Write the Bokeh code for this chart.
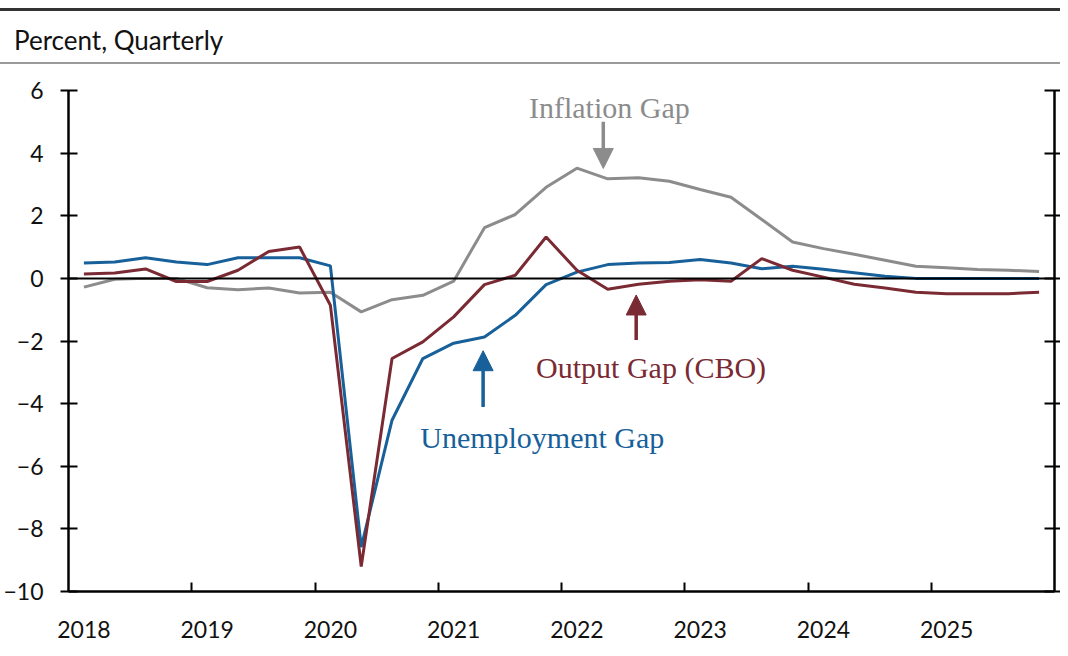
from bokeh.plotting import figure
from bokeh.models import (Range1d, LinearAxis, FixedTicker, Span, Label, Arrow, NormalHead, Div)
from bokeh.layouts import column
from bokeh.embed import file_html
from bokeh.resources import INLINE

# ---------------- data ----------------
years = [2018, 2019, 2020, 2021, 2022, 2023, 2024, 2025]
year_labels = ["2018", "2019", "2020", "2021", "2022", "2023", "2024", "2025"]
# quarterly observations 2018Q1 .. 2025Q4 (plotted at mid-quarter)
quarters = [y + (q - 0.5) / 4 for y in years for q in range(1, 5)]

unemployment_gap = [0.49, 0.52, 0.66, 0.52, 0.44, 0.66, 0.66, 0.66,
                    0.40, -8.58, -4.53, -2.56, -2.07, -1.87, -1.18, -0.20,
                    0.20, 0.44, 0.49, 0.51, 0.60, 0.49, 0.31, 0.39,
                    0.29, 0.18, 0.07, 0.00, 0.00, 0.00, 0.00, 0.00]
output_gap = [0.14, 0.17, 0.30, -0.10, -0.10, 0.26, 0.86, 1.00,
              -0.86, -9.20, -2.56, -2.03, -1.23, -0.20, 0.10, 1.32,
              0.26, -0.35, -0.19, -0.09, -0.04, -0.09, 0.63, 0.26,
              0.04, -0.19, -0.31, -0.44, -0.49, -0.49, -0.49, -0.44]
inflation_gap = [-0.28, -0.03, 0.00, 0.00, -0.30, -0.36, -0.31, -0.47,
                 -0.44, -1.07, -0.68, -0.54, -0.09, 1.62, 2.04, 2.91,
                 3.52, 3.18, 3.21, 3.10, 2.84, 2.59, 1.88, 1.16,
                 0.95, 0.77, 0.58, 0.39, 0.34, 0.28, 0.26, 0.22]
y_ticks = [6, 4, 2, 0, -2, -4, -6, -8, -10]

BLUE = "#17609a"
RED = "#7a2a33"
GRAY = "#8c8c8c"
SANS = "Lato"
SERIF = "Liberation Serif"

# ---------------- header (rules + unit label) ----------------
header = Div(width=1060, height=70, margin=(0, 0, 0, 0), text=(
    '<div style="position:relative;width:1060px;height:70px;font-family:Lato,sans-serif;">'
    '<div style="position:absolute;left:0;top:8px;width:1060px;height:0;'
    'border-top:3.5px solid #333333;"></div>'
    '<div style="position:absolute;left:14px;top:27px;font-size:26px;line-height:26px;'
    'color:#111111;white-space:nowrap;">Percent, Quarterly</div>'
    '<div style="position:absolute;left:0;top:62px;width:1060px;height:0;'
    'border-top:2px solid #9a9a9a;"></div>'
    '</div>'))

# ---------------- main plot ----------------
p = figure(width=1060, height=577, x_range=Range1d(2018, 2026), y_range=Range1d(-10, 6),
           output_backend="svg", toolbar_location=None, margin=(0, 0, 0, 0),
           min_border_left=64, min_border_right=6, min_border_top=20, min_border_bottom=56,
           x_axis_type=None, y_axis_type=None)
p.grid.visible = False
p.outline_line_color = None

# bottom axis: labels at Q1, tick marks at year boundaries (minor ticks)
xt = FixedTicker(ticks=[y + 0.125 for y in years],
                 minor_ticks=list(range(2019, 2026)))
xa = LinearAxis(ticker=xt)
xa.major_label_overrides = {y + 0.125: lab for y, lab in zip(years, year_labels)}
xa.major_tick_line_color = None
xa.major_tick_in = 0
xa.major_tick_out = 0
xa.minor_tick_in = 9
xa.minor_tick_out = 0
xa.minor_tick_line_width = 2
xa.minor_tick_line_color = "black"
xa.axis_line_width = 2.5
xa.axis_line_color = "black"
xa.major_label_text_font = SANS
xa.major_label_text_font_size = "23px"
xa.major_label_text_color = "#111111"
xa.major_label_standoff = 29
p.add_layout(xa, "below")

yt = FixedTicker(ticks=y_ticks, minor_ticks=[])
ya = LinearAxis(ticker=yt)
ya.major_tick_in = 9
ya.major_tick_out = 8
ya.minor_tick_in = 0
ya.minor_tick_out = 0
ya.major_tick_line_width = 2
ya.axis_line_width = 2.5
ya.major_label_text_font = SANS
ya.major_label_text_font_size = "23px"
ya.major_label_text_color = "#111111"
ya.major_label_standoff = 17
p.add_layout(ya, "left")

ya2 = LinearAxis(ticker=FixedTicker(ticks=y_ticks, minor_ticks=[]))
ya2.major_tick_in = 10
ya2.major_tick_out = 6
ya2.minor_tick_in = 0
ya2.minor_tick_out = 0
ya2.major_tick_line_width = 2
ya2.axis_line_width = 2.5
ya2.major_label_overrides = {t: "" for t in y_ticks}
ya2.major_label_text_color = None
ya2.major_label_standoff = 0
p.add_layout(ya2, "right")

# series
p.line(quarters, inflation_gap, line_color=GRAY, line_width=3)
p.line(quarters, unemployment_gap, line_color=BLUE, line_width=3)
p.line(quarters, output_gap, line_color=RED, line_width=3)

p.add_layout(Span(location=0, dimension="width", line_color="black", line_width=2))

# annotations
p.add_layout(Label(x=2022.388, y=5.45, text="Inflation Gap", text_font=SERIF,
                   text_font_size="30px", text_color=GRAY, text_align="center",
                   text_baseline="alphabetic"))
p.add_layout(Arrow(end=NormalHead(size=20, fill_color=GRAY, line_color=GRAY),
                   x_start=2022.339, y_start=5.0, x_end=2022.339, y_end=3.51,
                   line_color=GRAY, line_width=3.5))

p.add_layout(Label(x=2022.727, y=-2.84, text="Output Gap (CBO)", text_font=SERIF,
                   text_font_size="30px", text_color=RED, text_align="center",
                   text_baseline="alphabetic"))
p.add_layout(Arrow(end=NormalHead(size=20, fill_color=RED, line_color=RED),
                   x_start=2022.606, y_start=-1.97, x_end=2022.606, y_end=-0.53,
                   line_color=RED, line_width=3.5))

p.add_layout(Label(x=2021.844, y=-5.08, text="Unemployment Gap", text_font=SERIF,
                   text_font_size="30px", text_color=BLUE, text_align="center",
                   text_baseline="alphabetic"))
p.add_layout(Arrow(end=NormalHead(size=20, fill_color=BLUE, line_color=BLUE),
                   x_start=2021.364, y_start=-4.11, x_end=2021.364, y_end=-2.31,
                   line_color=BLUE, line_width=3.5))

layout = column(header, p, spacing=0)
open("out.html", "w").write(file_html(layout, INLINE))
